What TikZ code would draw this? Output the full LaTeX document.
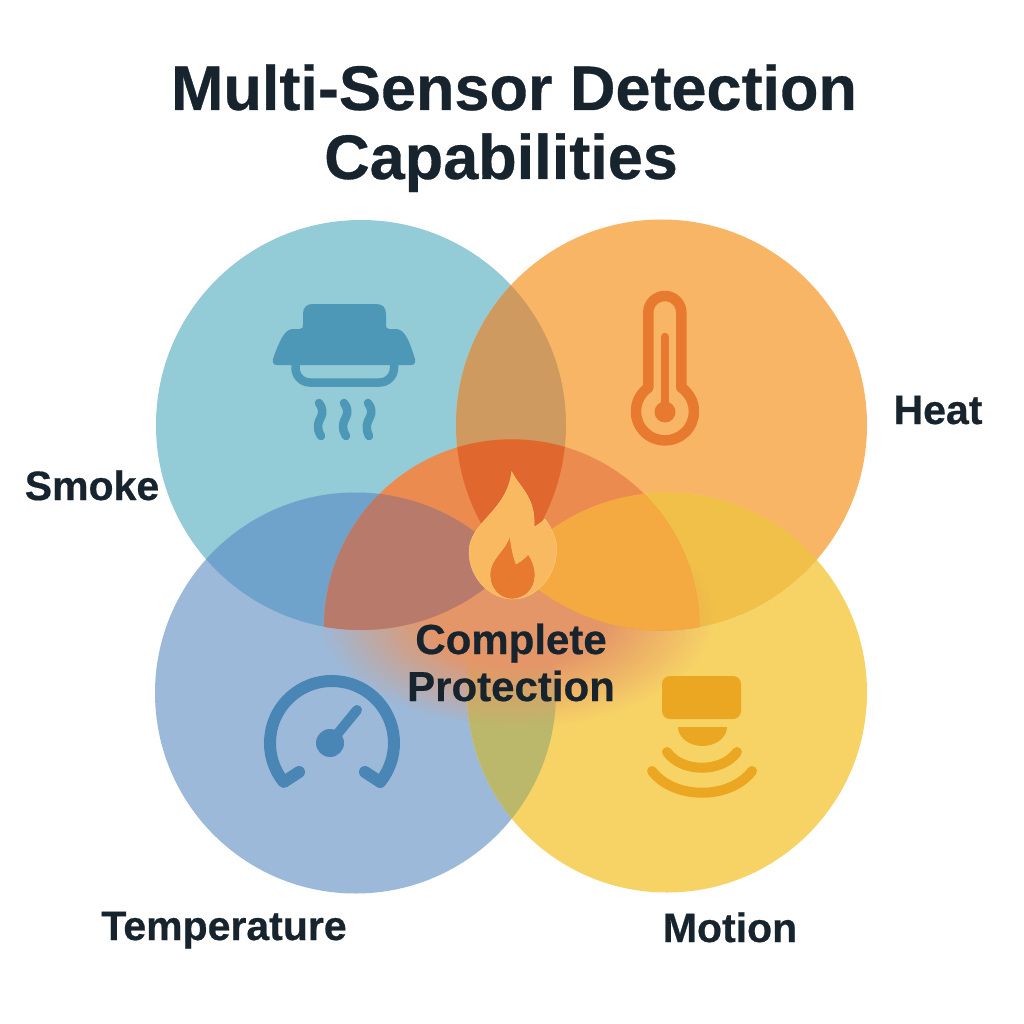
\documentclass[tikz,border=0pt]{standalone}
\usepackage{fontspec}
\setmainfont[BoldFeatures={FakeBold=0.5}]{Liberation Sans}
\usetikzlibrary{fadings}
\definecolor{smokefill}{HTML}{93CBD6}
\definecolor{heatfill}{HTML}{F8B565}
\definecolor{tempfill}{HTML}{9DB9D9}
\definecolor{motionfill}{HTML}{F7D366}
\definecolor{smokeheat}{HTML}{CE9A60}
\definecolor{smoketemp}{HTML}{70A3CC}
\definecolor{heatmotion}{HTML}{F0C048}
\definecolor{tempmotion}{HTML}{BCB86B}
\definecolor{coreorange}{HTML}{EC8B50}
\definecolor{corered}{HTML}{E0682F}
\definecolor{coremauve}{HTML}{B87A6B}
\definecolor{coreamber}{HTML}{F4AA40}
\definecolor{coreglow}{HTML}{E59668}
\definecolor{smokeicon}{HTML}{4D97B7}
\definecolor{heaticon}{HTML}{E87A30}
\definecolor{tempicon}{HTML}{4A86B5}
\definecolor{motionicon}{HTML}{EBA722}
\definecolor{flameouter}{HTML}{F9B960}
\definecolor{flameedge}{HTML}{FBCB7A}
\definecolor{inktext}{HTML}{17242E}
\pgfdeclareradialshading{glowshade}{\pgfpointorigin}{color(0bp)=(pgftransparent!0); color(11bp)=(pgftransparent!0); color(25bp)=(pgftransparent!100); color(50bp)=(pgftransparent!100)}
\pgfdeclarefading{glowfade}{\pgfuseshading{glowshade}}
\begin{document}
\begin{tikzpicture}[x=1pt,y=-1pt,
		titletext/.style={anchor=base,color=inktext,font=\fontsize{63}{70}\selectfont\bfseries},
		sensortext/.style={anchor=base,color=inktext,font=\fontsize{41}{48}\selectfont\bfseries},
		coretext/.style={anchor=base,color=inktext,font=\fontsize{42}{48}\selectfont\bfseries},
		iconline/.style={line width=#1,line cap=round,line join=round}]
		\useasboundingbox (0,0) rectangle (1024,1024);
		\fill[color=white] (0,0) rectangle (1024,1024);
		% the four sensor discs
		\fill[color=smokefill] (361,425) circle[radius=205];
		\fill[color=heatfill] (661.5,425) circle[radius=205.5];
		\fill[color=tempfill] (355.5,693) circle[radius=200.5];
		\fill[color=motionfill] (667,692.5) circle[radius=200];
		\begin{scope}
			\clip (361,425) circle[radius=205];
			\fill[color=smokeheat] (661.5,425) circle[radius=205.5];
			\fill[color=smoketemp] (355.5,693) circle[radius=200.5];
		\end{scope}
		\begin{scope}
			\clip (667,692.5) circle[radius=200];
			\fill[color=heatmotion] (661.5,425) circle[radius=205.5];
			\fill[color=tempmotion] (355.5,693) circle[radius=200.5];
		\end{scope}
		% centre
		\fill[color=coreglow,path fading=glowfade,fit fading=true] (516,615) ellipse[x radius=198,y radius=112];
		\begin{scope}
			\clip (511.7,627) circle[radius=187.7];
			\begin{scope}
				\clip (361,425) circle[radius=205];
				\fill[color=coreorange] (300,420) rectangle (720,640);
				\fill[color=coremauve] (355.5,693) circle[radius=200.5];
			\end{scope}
			\begin{scope}
				\clip (661.5,425) circle[radius=205.5];
				\fill[color=coreorange] (300,420) rectangle (720,640);
				\fill[color=coreamber] (667,692.5) circle[radius=200];
				\begin{scope}
					\clip (361,425) circle[radius=205];
					\fill[color=corered] (300,420) rectangle (720,640);
				\end{scope}
			\end{scope}
		\end{scope}
		% smoke detector
		\fill[color=smokeicon] (277,365) .. controls (272,365) and (272,361) .. (274,356) .. controls (279,343) and (284,329) .. (293,329) -- (300,329) .. controls (303,329) and (303,327) .. (303,324) -- (303,314) .. controls (303,307) and (307,304) .. (313,304) -- (376,304) .. controls (382,304) and (386,307) .. (386,314) -- (386,324) .. controls (386,327) and (386,329) .. (389,329) -- (396,329) .. controls (405,329) and (410,343) .. (414,356) .. controls (416,361) and (416,365) .. (411,365) -- cycle;
		\draw[color=smokeicon,iconline=8.5] (295.5,364) -- (295.5,368) arc[radius=14.5,start angle=180,end angle=90] -- (379.5,382.5) arc[radius=14.5,start angle=90,end angle=0] -- (394,364);
		\draw[color=smokeicon,iconline=8.5] (319,403) .. controls (323,408) and (323,413) .. (321,417) .. controls (318,422) and (316,428) .. (321,436);
		\draw[color=smokeicon,iconline=8.5] (344,403) .. controls (348,408) and (348,413) .. (346,417) .. controls (343,422) and (341,428) .. (346,436);
		\draw[color=smokeicon,iconline=8.5] (368,403) .. controls (372,408) and (372,413) .. (370,417) .. controls (367,422) and (365,428) .. (369,436);
		% thermometer
		\draw[color=heaticon,iconline=10.5] (648.3,387.5) -- (648.3,312.5) arc[radius=16.5,start angle=180,end angle=360] -- (681.3,387.5) arc[radius=29,start angle=-55.7,end angle=234.3] -- cycle;
		\draw[color=heaticon,iconline=8.6] (665,337) -- (665,410);
		\fill[color=heaticon] (665,412) circle[radius=10.5];
		% gauge
		\draw[color=tempicon,iconline=12] (299,772) -- (283.8,782) arc[radius=62,start angle=141,end angle=399] -- (365,772);
		\draw[color=tempicon,iconline=10] (330,743) -- (357,710);
		\fill[color=tempicon] (330,743) circle[radius=14];
		% motion sensor
		\fill[color=motionicon,rounded corners=8pt] (662,676) rectangle (741,719);
		\fill[color=motionicon] (678,727) -- (727,727) arc[x radius=24.5,y radius=19,start angle=0,end angle=180] -- cycle;
		\draw[color=motionicon,iconline=10] (667,752) .. controls (682,773) and (722,773) .. (737,752);
		\draw[color=motionicon,iconline=10] (652,771) .. controls (674,800) and (730,800) .. (752,771);
		% flame
		\filldraw[color=flameedge,fill=flameouter,thin] (511.7,471.7) .. controls (519,487) and (536,497) .. (534,527) .. controls (538,525) and (542,522) .. (545,519) .. controls (552,528) and (558,542) .. (556.7,552) .. controls (555,578) and (535,599) .. (513,599) .. controls (490,599) and (469,578) .. (469,552) .. controls (469,522) and (507,512) .. cycle;
		\filldraw[color=flameedge,fill=heaticon,thin] (510,535.7) .. controls (511,546) and (513,556) .. (516,564) .. controls (520,562) and (525,558) .. (528.3,554.3) .. controls (533,562) and (535,568) .. (535,575) .. controls (535,590) and (524,599) .. (512,599) .. controls (500,599) and (490,589) .. (490,575) .. controls (490,558) and (505,552) .. cycle;
		% texts
		\node[titletext] (titleone) at (514,110) {Multi-Sensor Detection};
		\node[titletext] (titletwo) at (501,179) {Capabilities};
		\node[sensortext] (smokelabel) at (92,500) {Smoke};
		\node[sensortext] (heatlabel) at (938,424) {Heat};
		\node[sensortext] (templabel) at (224,940) {Temperature};
		\node[sensortext] (motionlabel) at (730,942) {Motion};
		\node[coretext] (corelabelone) at (511,654) {Complete};
		\node[coretext] (corelabeltwo) at (511,701) {Protection};
\end{tikzpicture}
\end{document}
